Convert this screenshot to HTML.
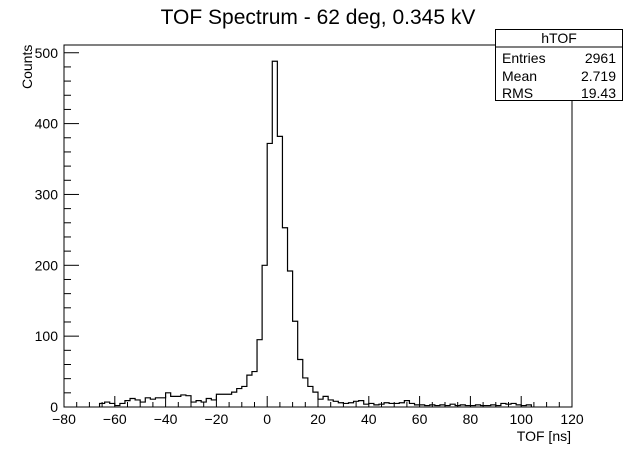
<!DOCTYPE html>
<html><head><meta charset="utf-8"><style>
body{margin:0;background:#fff}
svg text{font-family:"Liberation Sans",Arial,sans-serif;fill:#000}
</style></head><body>
<svg id="c" width="636" height="453">
<rect width="636" height="453" fill="#fff"/>
<text x="318" y="24" font-size="21" text-anchor="middle">TOF Spectrum - 62 deg, 0.345 kV</text>
<rect x="64" y="45" width="508" height="362" fill="none" stroke="#000" stroke-width="1"/>
<g id="ax"></g>
<path id="hist" fill="none" stroke="#000" stroke-width="1.2"/>
<text x="571" y="441" font-size="14" text-anchor="end">TOF [ns]</text>
<text transform="translate(32,89) rotate(-90)" font-size="14" text-anchor="start">Counts</text>
<g>
<rect x="495.5" y="29.5" width="127" height="71" fill="#fff" stroke="#000"/>
<line x1="495.5" y1="47" x2="622.5" y2="47" stroke="#000"/>
<text x="559" y="43" font-size="14" text-anchor="middle">hTOF</text>
<text x="502" y="63" font-size="14">Entries</text><text x="616" y="63" font-size="14" text-anchor="end">2961</text>
<text x="502" y="81" font-size="14">Mean</text><text x="616" y="81" font-size="14" text-anchor="end">2.719</text>
<text x="502" y="98" font-size="14">RMS</text><text x="616" y="98" font-size="14" text-anchor="end">19.43</text>
</g>
</svg>
<script>
const binStart = -66;
const binWidth = 2;
const counts = [5,7,5,2,5,9,12,10,7,13,11,13,13,20,15,15,17,16,7,9,7,12,10,18,18,18,21,26,29,45,50,95,200,372,488,382,253,192,121,67,41,29,21,11,15,10,8,6,5,6,8,9,4,5,3,4,6,5,5,6,9,5,3,3,2,3,2,3,2,4,2,3,2,2,3,2,2,3,2,5,4,5,3,2,3];
const xTicks = [-80,-60,-40,-20,0,20,40,60,80,100,120];
const yTicks = [0,100,200,300,400,500];
const X = v => 64 + (v + 80) * 2.54;
const Y = c => 407 - c * 0.7085;
const ns = "http://www.w3.org/2000/svg";
const ax = document.getElementById('ax');
function mk(t, a) { const e = document.createElementNS(ns, t); for (const k in a) e.setAttribute(k, a[k]); ax.appendChild(e); return e; }
for (let v = -80; v <= 120; v += 5) {
  const big = v % 20 === 0;
  const t = mk('line', {x1: X(v), x2: X(v), y1: 407, y2: 407 - (big ? 11 : 5), stroke: '#000'});
  
  
}
xTicks.forEach(v => {
  const t = mk('text', {x: X(v), y: 424, 'font-size': 14, 'text-anchor': 'middle'});
  t.textContent = v < 0 ? '\u2212' + (-v) : String(v);
  
  
});
for (let c = 0; c <= 500; c += 20) {
  const big = c % 100 === 0;
  const t = mk('line', {x1: 64, x2: 64 + (big ? 15 : 7), y1: Y(c), y2: Y(c), stroke: '#000'});
  
  
}
yTicks.forEach(c => {
  const t = mk('text', {x: 58, y: Y(c) + 5, 'font-size': 14, 'text-anchor': 'end'});
  t.textContent = String(c);
  
  
});
let d = 'M' + X(binStart) + ' ' + Y(0);
counts.forEach((c, i) => {
  const x0 = X(binStart + i * binWidth), x1 = X(binStart + (i + 1) * binWidth);
  d += ' L' + x0 + ' ' + Y(c) + ' L' + x1 + ' ' + Y(c);
});
d += ' L' + X(binStart + counts.length * binWidth) + ' ' + Y(0);
document.getElementById('hist').setAttribute('d', d);
</script>
</body></html>
